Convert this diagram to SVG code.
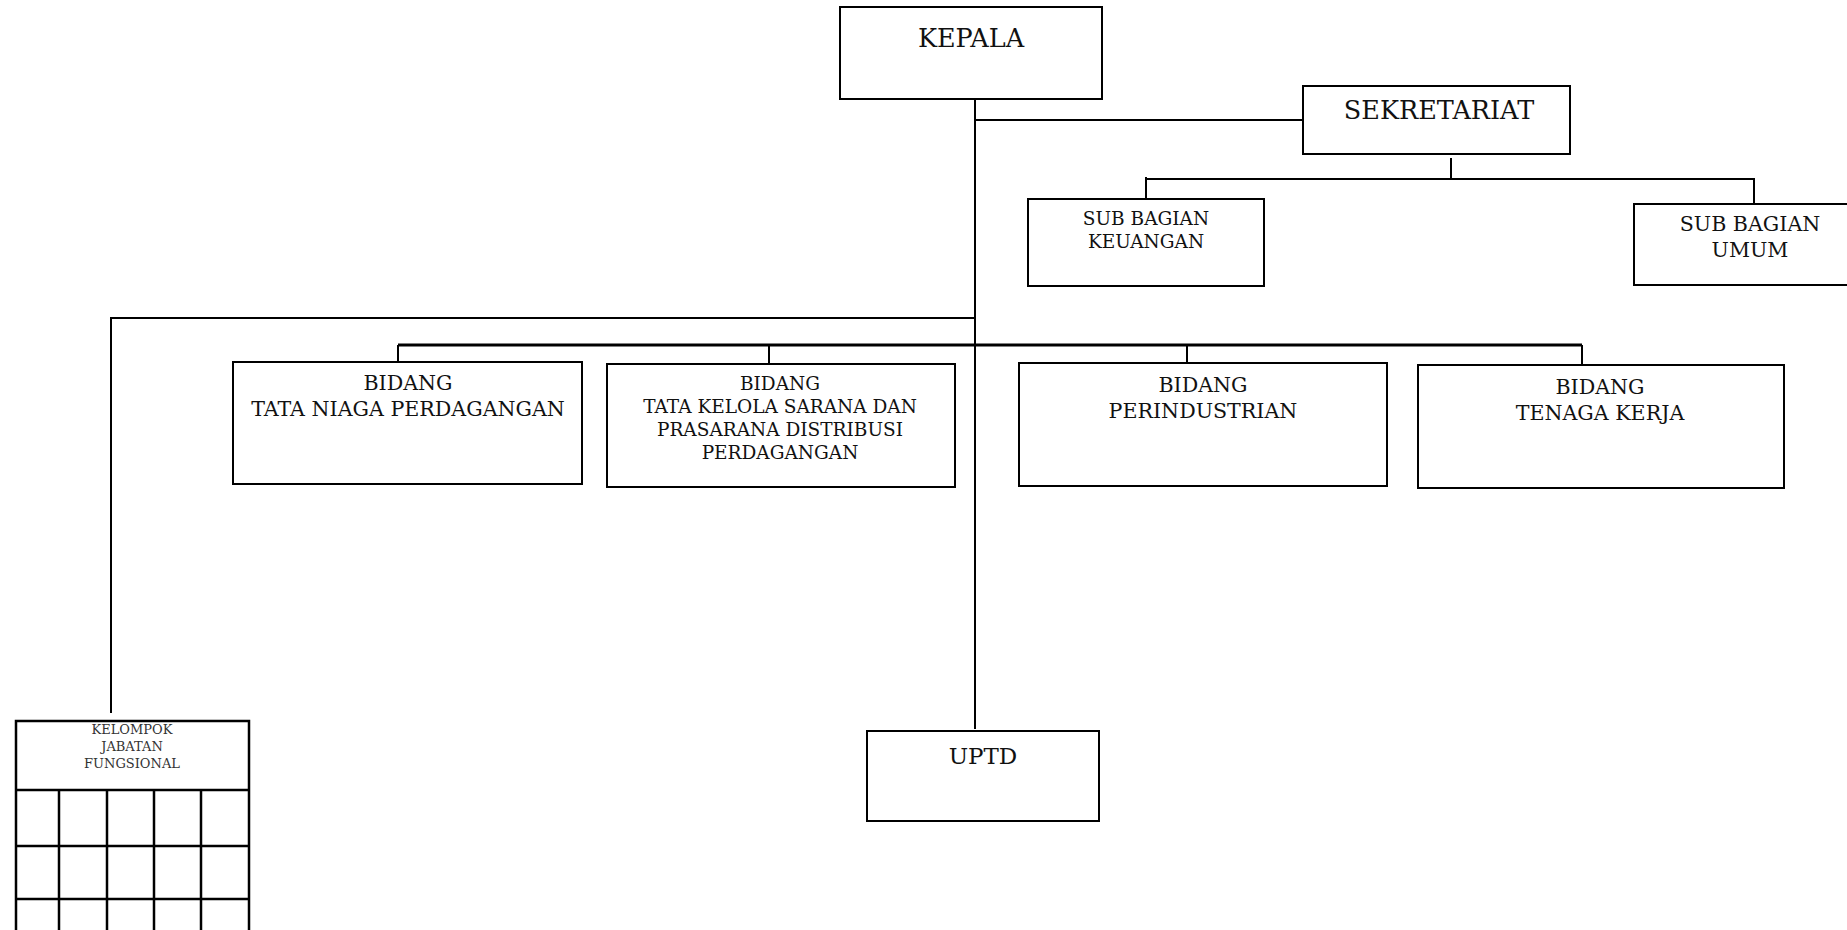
<svg xmlns="http://www.w3.org/2000/svg" width="1847" height="930" viewBox="0 0 1847 930">
<style>
.box{fill:#fff;stroke:#000;stroke-width:2}
.ln{fill:none;stroke:#000;stroke-width:2}
.bus{fill:none;stroke:#000;stroke-width:3}
text{font-family:"DejaVu Serif","Liberation Serif",serif;fill:#111;text-anchor:middle}
.t1{font-size:25.5px}
.t5{font-size:23px}
.t2{font-size:20.6px}
.t3{font-size:18.5px}
.t4{font-size:13px;fill:#333}
</style>
<rect width="1847" height="930" fill="#fff"/>
<g id="connectors">
<line class="ln" x1="975" y1="99" x2="975" y2="729"/>
<line class="ln" x1="975" y1="120" x2="1303" y2="120"/>
<line class="ln" x1="1451" y1="158" x2="1451" y2="179"/>
<polyline class="ln" points="1146,177 1146,179 1754,179 1754,203"/>
<line class="ln" x1="1146" y1="177" x2="1146" y2="199"/>
<polyline class="ln" points="975,318 111,318 111,713"/>
<line class="bus" x1="398" y1="345" x2="1582" y2="345"/>
<line class="ln" x1="398" y1="345" x2="398" y2="362"/>
<line class="ln" x1="769" y1="345" x2="769" y2="364"/>
<line class="ln" x1="1187" y1="345" x2="1187" y2="363"/>
<line class="ln" x1="1582" y1="345" x2="1582" y2="365"/>
</g>
<g id="kepala"><rect class="box" x="840" y="7" width="262" height="92"/><text class="t1" x="971" y="47">KEPALA</text></g>
<g id="sekretariat"><rect class="box" x="1303" y="86" width="267" height="68"/><text class="t1" x="1439" y="119">SEKRETARIAT</text></g>
<g id="subbag-keuangan"><rect class="box" x="1028" y="199" width="236" height="87"/><text class="t3" x="1146" y="225">SUB BAGIAN</text><text class="t3" x="1146" y="248">KEUANGAN</text></g>
<g id="subbag-umum"><rect class="box" x="1634" y="204" width="216" height="81"/><text class="t2" x="1750" y="231">SUB BAGIAN</text><text class="t2" x="1750" y="257">UMUM</text></g>
<g id="bidang-tata-niaga"><rect class="box" x="233" y="362" width="349" height="122"/><text class="t2" x="408" y="390">BIDANG</text><text class="t2" x="408" y="416">TATA NIAGA PERDAGANGAN</text></g>
<g id="bidang-tata-kelola"><rect class="box" x="607" y="364" width="348" height="123"/><text class="t3" x="780" y="390">BIDANG</text><text class="t3" x="780" y="413">TATA KELOLA SARANA DAN</text><text class="t3" x="780" y="436">PRASARANA DISTRIBUSI</text><text class="t3" x="780" y="459">PERDAGANGAN</text></g>
<g id="bidang-perindustrian"><rect class="box" x="1019" y="363" width="368" height="123"/><text class="t2" x="1203" y="392">BIDANG</text><text class="t2" x="1203" y="418">PERINDUSTRIAN</text></g>
<g id="bidang-tenaga-kerja"><rect class="box" x="1418" y="365" width="366" height="123"/><text class="t2" x="1600" y="394">BIDANG</text><text class="t2" x="1600" y="420">TENAGA KERJA</text></g>
<g id="uptd"><rect class="box" x="867" y="731" width="232" height="90"/><text class="t5" x="983" y="764">UPTD</text></g>
<g id="kelompok-jabatan-fungsional">
<rect class="box" x="16" y="721" width="233" height="220" style="stroke-width:2.5"/>
<line class="ln" x1="16" y1="790" x2="249" y2="790" style="stroke-width:2.5"/>
<line class="ln" x1="16" y1="846" x2="249" y2="846" style="stroke-width:2.5"/>
<line class="ln" x1="16" y1="899" x2="249" y2="899" style="stroke-width:2.5"/>
<line class="ln" x1="59" y1="790" x2="59" y2="930" style="stroke-width:2.5"/>
<line class="ln" x1="107" y1="790" x2="107" y2="930" style="stroke-width:2.5"/>
<line class="ln" x1="154" y1="790" x2="154" y2="930" style="stroke-width:2.5"/>
<line class="ln" x1="201" y1="790" x2="201" y2="930" style="stroke-width:2.5"/>
<text class="t4" x="132" y="734">KELOMPOK</text><text class="t4" x="132" y="751">JABATAN</text><text class="t4" x="132" y="768">FUNGSIONAL</text>
</g>
</svg>
